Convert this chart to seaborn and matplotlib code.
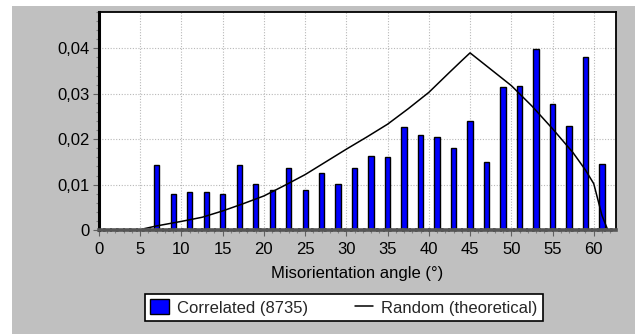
import matplotlib
matplotlib.use("Agg")
import matplotlib.pyplot as plt
import matplotlib.ticker as mticker
from matplotlib.patches import Rectangle, Patch
from matplotlib.lines import Line2D
import numpy as np
import pandas as pd
import seaborn as sns

# ---- data ----
bar_angles = [7, 9, 11, 13, 15, 17, 19, 21, 23, 25, 27, 29, 31, 33, 35, 37, 39, 41, 43, 45,
              47, 49, 51, 53, 55, 57, 59, 61]
correlated = [0.0143, 0.0080, 0.0083, 0.0083, 0.0080, 0.0143, 0.0101, 0.0087, 0.0136, 0.0087,
              0.0126, 0.0101, 0.0136, 0.0164, 0.0160, 0.0227, 0.0209, 0.0205, 0.0181, 0.0241,
              0.0149, 0.0314, 0.0318, 0.0398, 0.0278, 0.0230, 0.0381, 0.0145]
random_x = [0, 5, 5.5, 7, 10, 12.5, 15, 17.5, 20, 22.5, 25, 27.5, 30, 32.5, 35, 37.5, 40,
            42.5, 44, 45, 47.5, 50, 52.5, 55, 57.5, 59, 60, 61, 61.7]
random_y = [0, 0, 0.0003, 0.0009, 0.0019, 0.0028, 0.0042, 0.0058, 0.0075, 0.0098, 0.0122,
            0.0150, 0.0178, 0.0205, 0.0233, 0.0267, 0.0303, 0.0347, 0.0373, 0.0390, 0.0354,
            0.0318, 0.0273, 0.0223, 0.0170, 0.0132, 0.0102, 0.0032, 0.0]
x_ticks = [0, 5, 10, 15, 20, 25, 30, 35, 40, 45, 50, 55, 60]
y_ticks = [0, 0.01, 0.02, 0.03, 0.04]
xlabel = "Misorientation angle (°)"
bar_label = "Correlated (8735)"
line_label = "Random (theoretical)"

sns.set_theme(style="white")
plt.rcParams['font.family'] = ['Liberation Sans', 'DejaVu Sans']

W, H = 635, 334
fig = plt.figure(figsize=(W / 100, H / 100), dpi=100, facecolor="white")
bg = Rectangle((11.5 / W, 0), 1 - 11.5 / W, 1 - 6 / H, transform=fig.transFigure,
               facecolor="#c0c0c0", edgecolor="none", zorder=-10)
fig.patches.append(bg)

ax = fig.add_axes([99 / W, 1 - 230 / H, (616 - 99) / W, (230 - 12) / H])
ax.set_facecolor("white")

df_bars = pd.DataFrame({"angle": bar_angles, "freq": correlated})
df_line = pd.DataFrame({"angle": random_x, "freq": random_y})

sns.barplot(data=df_bars, x="angle", y="freq", native_scale=True, width=0.32,
            color="#0000ff", saturation=1, edgecolor="black", linewidth=1, ax=ax, zorder=3)
sns.lineplot(data=df_line, x="angle", y="freq", color="black", linewidth=1.1, ax=ax, zorder=4)

ax.set_xlim(0, 62.7)
ax.set_ylim(0, 0.048)
ax.set_xticks(x_ticks)
ax.set_xticklabels([str(v) for v in x_ticks])
ax.set_yticks(y_ticks)
ax.set_yticklabels(["0" if v == 0 else f"{v:.2f}".replace(".", ",") for v in y_ticks])
ax.xaxis.set_minor_locator(mticker.MultipleLocator(1))
ax.yaxis.set_minor_locator(mticker.MultipleLocator(0.002))
ax.tick_params(axis="both", which="major", direction="out", length=4, width=0.8,
               color="#606060", labelsize=12, labelcolor="black", pad=3)
ax.tick_params(axis="x", which="major", pad=5)
ax.tick_params(axis="both", which="minor", direction="out", length=2, width=0.8, color="#808080")
ax.tick_params(axis="x", which="both", bottom=True)
ax.tick_params(axis="y", which="both", left=True)

ax.grid(True, which="major", color="#b8b8b8", linestyle=(0, (1, 1.5)), linewidth=0.8, zorder=0)
ax.set_axisbelow(True)

for side in ["top", "right"]:
    ax.spines[side].set_color("black")
    ax.spines[side].set_linewidth(1.3)
ax.spines["left"].set_color("black")
ax.spines["left"].set_linewidth(2.2)
ax.spines["bottom"].set_color("#555555")
ax.spines["bottom"].set_linewidth(2.6)
ax.spines["bottom"].set_linestyle((0, (1.2, 0.6)))
ax.spines["bottom"].set_zorder(6)

ax.set_xlabel(xlabel, fontsize=12, labelpad=6, color="black")
ax.set_ylabel("")

handles = [Patch(facecolor="#0000ff", edgecolor="black", linewidth=1),
           Line2D([0], [0], color="black", linewidth=1.1)]
leg = fig.legend(handles, [bar_label, line_label], loc="center",
                 bbox_to_anchor=(344 / W, 1 - 307.5 / H), ncol=2, fontsize=12,
                 frameon=True, fancybox=False, framealpha=1, edgecolor="black",
                 handlelength=1.1, handleheight=1.0, handletextpad=0.5, columnspacing=2.8,
                 borderpad=0.3, borderaxespad=0)
leg.get_frame().set_linewidth(1.2)
leg.get_frame().set_facecolor("white")

fig.savefig("out.png", dpi=100, facecolor=fig.get_facecolor())
